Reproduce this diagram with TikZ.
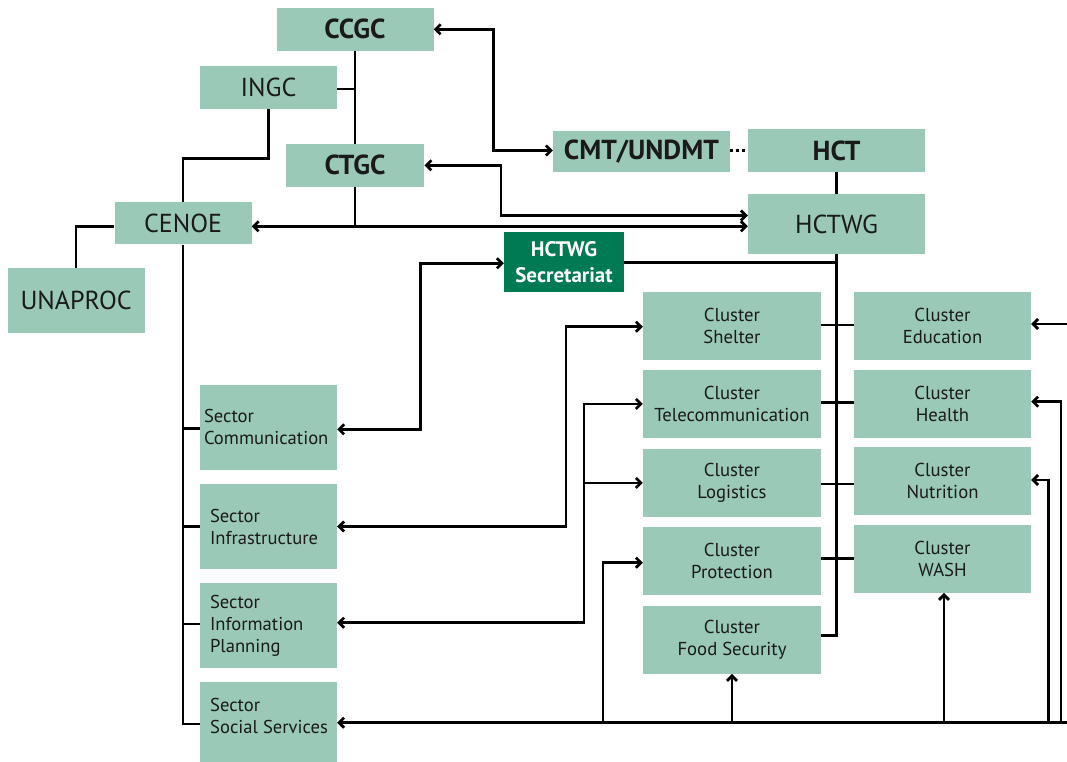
\documentclass[tikz,border=0pt]{standalone}
\usepackage{fontspec}
\setmainfont{PT Sans}
\usetikzlibrary{arrows.meta}
\definecolor{boxg}{HTML}{9BC9B8}
\definecolor{darkg}{HTML}{007A53}
\definecolor{ink}{HTML}{1A1A1A}
\begin{document}
\begin{tikzpicture}[x=1pt,y=-1pt,
  >={Straight Barb[length=5pt,width=10pt]},
  conn/.style={line width=2.7pt, draw=black},
  box/.style={fill=boxg, inner sep=0pt, align=center, text=ink},
  big/.style={box, font=\fontsize{26}{30}\selectfont},
  bigb/.style={box, font=\fontsize{27.5}{32}\selectfont\bfseries},
  clus/.style={box, minimum width=178pt, minimum height=67.7pt, font=\fontsize{18.7}{22.7}\selectfont},
  clusr/.style={clus, minimum width=177pt},
  sect/.style={box, align=left, inner xsep=10pt, inner ysep=0pt, text width=117pt, minimum height=85pt, font=\fontsize{18.6}{22}\selectfont},
  secttext/.style={inner sep=0pt, align=left, anchor=west, text=ink, font=\fontsize{18.6}{22}\selectfont}
]
\useasboundingbox (0,0) rectangle (1067,762);

% top nodes
\node[bigb, minimum width=157pt, minimum height=42.7pt] (ccgc) at (355,29.3) {CCGC};
\node[big, minimum width=137pt, minimum height=42.2pt] (ingc) at (268.5,87.6) {INGC};
\node[bigb, minimum width=138.5pt, minimum height=42.7pt] (ctgc) at (355,165.3) {CTGC};
\node[big, minimum width=137pt, minimum height=42.3pt] (cenoe) at (183,223.2) {CENOE};
\node[big, minimum width=137pt, minimum height=65.3pt] (unaproc) at (76.1,300.7) {UNAPROC};
\node[bigb, minimum width=176.7pt, minimum height=41.7pt] (cmt) at (641.4,151.5) {CMT/UNDMT};
\node[bigb, minimum width=176.8pt, minimum height=42.7pt] (hct) at (836.5,150.4) {HCT};
\node[big, minimum width=177pt, minimum height=59.7pt] (hctwg) at (836.5,223.9) {HCTWG};
\node[fill=darkg, text=white, inner sep=0pt, align=center, minimum width=120pt, minimum height=59.7pt,
      font=\fontsize{21}{25.5}\selectfont\bfseries] (sec) at (564,261.9) {HCTWG\\Secretariat};

% clusters
\node[clus] (shelter) at (732,326) {Cluster\\Shelter};
\node[clus] (telecom) at (732,403.9) {Cluster\\Telecommunication};
\node[clus] (logistics) at (732,482.9) {Cluster\\Logistics};
\node[clus] (protection) at (732,560.9) {Cluster\\Protection};
\node[clus] (fs) at (732,639.9) {Cluster\\Food Security};
\node[clusr] (edu) at (942.5,326) {Cluster\\Education};
\node[clusr] (health) at (942.5,403.9) {Cluster\\Health};
\node[clusr] (nutrition) at (942.5,480.9) {Cluster\\Nutrition};
\node[clusr] (wash) at (942.5,558.9) {Cluster\\WASH};

% sectors
\node[sect, inner xsep=4pt, text width=129pt] (scomm) at (268.5,427.4) {Sector\\Communication};
\node[sect] (sinfra) at (268.5,526.5) {Sector\\Infrastructure};
\node[sect] (sip) at (268.5,625.4) {Sector\\Information\\Planning};
\node[sect] (sss) at (268.5,724.5) {};
\node[secttext] (ssstext) at (210,715.5) {Sector\\Social Services};

% coordinates
\coordinate (yc) at (0,226.3);
\coordinate (xa) at (493.5,0);
\coordinate (xb) at (501,0);
\coordinate (yb) at (0,215.5);
\coordinate (xc) at (420.5,0);
\coordinate (yl) at (0,429.3);
\coordinate (yf) at (0,635.7);
\coordinate (xd) at (566,0);
\coordinate (xe) at (584,0);
\coordinate (yip) at (0,622.7);
\coordinate (yg) at (0,722.7);
\coordinate (xf) at (603,0);
\coordinate (xn) at (1048.5,0);
\coordinate (xh) at (1061,0);
\coordinate (yh) at (0,401.7);
\coordinate (ye) at (0,324);
\coordinate (re) at (1072,0);

% left hierarchy
\draw[conn] (ccgc.south) -- (ccgc.south |- ctgc.north);
\draw[conn] (ingc.east |- 0,89) -- (ccgc.south |- 0,89);
\draw[conn] (ingc.south) -- ++(0,49.7) -| (cenoe.north);
\draw[conn] (cenoe.west |- yc) -| (unaproc.north);
\draw[conn] (cenoe.south) -- (cenoe.south |- 0,724) -- (sss.west |- 0,724);
\draw[conn] (scomm.west |- 0,428.7) -- (cenoe.south |- 0,428.7);
\draw[conn] (sinfra.west) -- (sinfra.west -| cenoe.south);
\draw[conn] (sip.west |- 0,624) -- (cenoe.south |- 0,624);
\draw[conn] (ctgc.south) -- (ctgc.south |- yc);
\draw[conn,<->] (cenoe.east |- yc) -- (hctwg.west |- yc);

% top right
\draw[conn,<->] (ccgc.east) -- (xa |- ccgc.east) |- (cmt.west |- 0,150.5);
\draw[conn,<->] (ctgc.east) -- (xb |- ctgc.east) |- (hctwg.west |- yb);
\draw[conn, dash pattern=on 2.6pt off 3.6pt] (cmt.east |- 0,150.5) -- (hct.west |- 0,150.5);
\draw[conn] (hct.south) -- (hctwg.north);
\draw[conn] (hctwg.south) -- (hctwg.south |- yf) -- (fs.east |- yf);
\draw[conn] (sec.east |- 0,262.7) -- (hctwg.south |- 0,262.7);
\draw[conn,<->] (sec.west |- 0,263.3) -- (xc |- 0,263.3) |- (scomm.east |- yl);

% cluster ties
\draw[conn] (shelter.east |- 0,325) -- (edu.west |- 0,325);
\draw[conn] (telecom.east |- 0,402.5) -- (health.west |- 0,402.5);
\draw[conn] (logistics.east |- 0,484) -- (nutrition.west |- 0,484);
\draw[conn] (protection.east |- 0,558.5) -- (wash.west |- 0,558.5);

% sector to cluster links
\draw[conn,<->] (sinfra.east) -- (xd |- sinfra.east) |- (shelter.west |- 0,326.7);
\draw[conn,<->] (sip.east |- yip) -- (xe |- yip) |- (telecom.west);
\draw[conn,->] (xe |- logistics.west) -- (logistics.west);

% bottom bus
\draw[conn,<-] (sss.east |- yg) -- (re |- yg);
\draw[conn,->] (xf |- yg) |- (protection.west |- 0,562.7);
\draw[conn,->] (fs.south |- yg) -- (fs.south);
\draw[conn,->] (944,722.7) -- (wash.south -| 944,0);
\draw[conn,->] (xn |- yg) |- (nutrition.east |- 0,480);
\draw[conn,->] (xh |- yg) |- (health.east |- yh);
\draw[conn,->] (re |- ye) -- (edu.east |- ye);
\end{tikzpicture}
\end{document}
